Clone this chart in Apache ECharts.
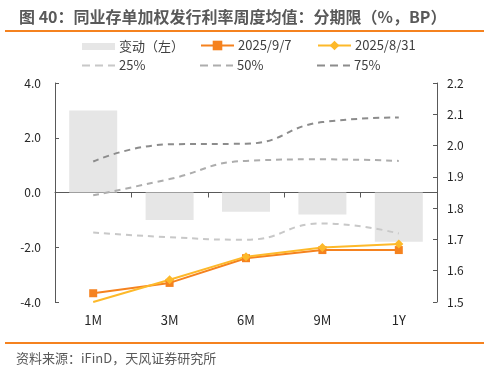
<!DOCTYPE html>
<html><head><meta charset="utf-8">
<script src="https://cdn.jsdelivr.net/npm/echarts@6/dist/echarts.min.js"></script>
<style>html,body{margin:0;padding:0;background:#fff}#c{width:490px;height:372px}</style>
</head><body><div id="c"></div>
<script>
const categories = ['1M','3M','6M','9M','1Y'];
const change = [3.0, -1.0, -0.7, -0.8, -1.8];
const rate0907 = [1.528, 1.561, 1.640, 1.666, 1.666];
const rate0831 = [1.500, 1.571, 1.645, 1.674, 1.685];
const q25 = [1.722, 1.707, 1.699, 1.751, 1.719];
const q50 = [1.841, 1.893, 1.951, 1.956, 1.951];
const q75 = [1.949, 2.004, 2.006, 2.075, 2.090];
const leftTicks = {min:-4, max:4, interval:2};
const rightTicks = {min:1.5, max:2.2, interval:0.1};

const FONT = '"Noto Sans CJK SC", "Noto Sans", sans-serif';
const chart = echarts.init(document.getElementById('c'), null, {renderer:'canvas'});
const DASH_ICON = 'path://M0,0h8v2h-8z M13,0h8v2h-8z M26,0h7v2h-7z';
function lg(name, left, top, icon, h){
  return {data:[{name, icon}], left, top, itemWidth:33, itemHeight:h, itemGap:0,
    textStyle:{color:'#404040', fontSize:13, fontFamily:FONT, padding:[0,0,0,-1]}, padding:0};
}
chart.setOption({
  animation:false,
  textStyle:{fontFamily:FONT},
  title:{text:'图 40：同业存单加权发行利率周度均值：分期限（%，BP）', left:14, top:4,
    textStyle:{color:'#595959', fontSize:16, fontWeight:'bold', fontFamily:FONT}},
  graphic:[
    {type:'rect', shape:{x:5, y:30, width:479, height:2}, style:{fill:'#F5821F'}},
    {type:'rect', shape:{x:5, y:342, width:479, height:2}, style:{fill:'#F5821F'}},
    {type:'text', left:16, top:352, style:{text:'资料来源：iFinD，天风证券研究所', fill:'#595959', font:'13px "Noto Sans CJK SC"'}}
  ],
  legend:[
    lg('变动（左）', 82, 40, 'rect', 7),
    lg('2025/9/7', 200, 39, undefined, 12),
    lg('2025/8/31', 317, 39, undefined, 12),
    lg('25%', 82, 59, DASH_ICON, 2),
    lg('50%', 200, 59, DASH_ICON, 2),
    lg('75%', 317, 59, DASH_ICON, 2)
  ],
  grid:{left:55, right:53, top:83, bottom:70},
  xAxis:[
    {type:'category', data:categories, position:'bottom', axisLine:{show:false, onZero:false},
     axisTick:{show:false}, axisLabel:{color:'#262626', fontSize:13, fontFamily:FONT, margin:12}},
    {type:'category', data:categories, position:'bottom', axisLine:{show:true, onZero:true, lineStyle:{color:'#595959', width:1}},
     axisTick:{show:true, length:5, lineStyle:{color:'#595959'}}, axisLabel:{show:false}}
  ],
  yAxis:[
    {type:'value', min:leftTicks.min, max:leftTicks.max, interval:leftTicks.interval, splitLine:{show:false},
     axisLine:{show:true, lineStyle:{color:'#595959'}}, axisTick:{show:true, inside:true, length:4},
     axisLabel:{color:'#262626', fontSize:12, fontFamily:FONT, margin:14, formatter:v=>v.toFixed(1)}},
    {type:'value', min:rightTicks.min, max:rightTicks.max, interval:rightTicks.interval, splitLine:{show:false},
     axisLine:{show:true, lineStyle:{color:'#595959'}}, axisTick:{show:true, inside:true, length:4},
     axisLabel:{color:'#262626', fontSize:12, fontFamily:FONT, margin:10, formatter:v=>v.toFixed(1)}}
  ],
  series:[
    {name:'变动（左）', type:'bar', data:change, xAxisIndex:0, yAxisIndex:0, barWidth:48, itemStyle:{color:'#E6E6E6'}},
    {name:'25%', type:'line', data:q25, yAxisIndex:1, smooth:true, symbol:'none',
     lineStyle:{color:'#C8C8C8', width:2, type:[6,5]}, itemStyle:{color:'#C8C8C8'}},
    {name:'50%', type:'line', data:q50, yAxisIndex:1, smooth:true, symbol:'none',
     lineStyle:{color:'#ADADAD', width:2, type:[6,5]}, itemStyle:{color:'#ADADAD'}},
    {name:'75%', type:'line', data:q75, yAxisIndex:1, smooth:true, symbol:'none',
     lineStyle:{color:'#8C8C8C', width:2, type:[6,5]}, itemStyle:{color:'#8C8C8C'}},
    {name:'2025/9/7', type:'line', data:rate0907, yAxisIndex:1, symbol:'rect', symbolSize:8,
     lineStyle:{color:'#F5821F', width:2}, itemStyle:{color:'#F5821F'}},
    {name:'2025/8/31', type:'line', data:rate0831.map((v,i)=> i===0 ? {value:v, symbol:'none'} : v), yAxisIndex:1,
     symbol:'diamond', symbolSize:9, lineStyle:{color:'#FDB92A', width:2}, itemStyle:{color:'#FDB92A'}}
  ]
});
</script></body></html>
